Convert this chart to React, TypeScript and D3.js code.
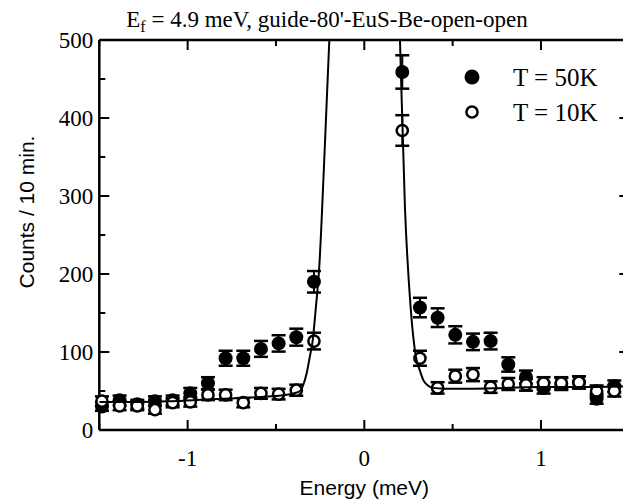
import React from "react";
import * as d3 from "d3";

const energies = [
  -1.485, -1.385, -1.285, -1.185, -1.085, -0.985, -0.885, -0.785, -0.685, -0.585, -0.485, -0.385, -0.285,
  0.215, 0.315, 0.415, 0.515, 0.615, 0.715, 0.815, 0.915, 1.015, 1.115, 1.215, 1.315, 1.415,
];
const counts50K = [
  30, 38, 33, 37, 38, 47, 60, 92, 92, 104, 111, 119, 190,
  459, 157, 144, 122, 113, 114, 84, 68, 54, 59, 61, 40, 56,
];
const errors50K = [
  5.5, 6.2, 5.7, 6.1, 6.2, 6.9, 7.7, 9.6, 9.6, 10.2, 10.5, 10.9, 13.8,
  21.4, 12.5, 12.0, 11.0, 10.6, 10.7, 9.2, 8.2, 7.3, 7.7, 7.8, 6.3, 7.5,
];
const counts10K = [
  37, 31, 31, 26, 35, 36, 45, 45, 35, 47, 46, 51, 114,
  384, 92, 54, 69, 71, 55, 59, 58, 60, 60, 61, 50, 50,
];
const errors10K = [
  6.1, 5.6, 5.6, 5.1, 5.9, 6.0, 6.7, 6.7, 5.9, 6.9, 6.8, 7.1, 10.7,
  19.6, 9.6, 7.3, 8.3, 8.4, 7.4, 7.7, 7.6, 7.7, 7.7, 7.8, 7.1, 7.1,
];

// fitted curve (two branches of the elastic peak)
const fitLeftE = [-1.5, -1.3, -1.1, -0.9, -0.7, -0.55, -0.45, -0.4, -0.364, -0.345, -0.326, -0.31, -0.292, -0.275, -0.255, -0.226, -0.198, -0.18];
const fitLeftC = [36, 36, 37, 39, 41, 43, 45, 47, 50, 58, 73, 92, 115, 155, 209, 350, 500, 600];
const fitRightE = [0.19, 0.202, 0.23, 0.262, 0.292, 0.315, 0.334, 0.36, 0.39, 0.45, 0.6, 0.8, 1.0, 1.2, 1.5];
const fitRightC = [600, 500, 286, 158, 94, 76, 64, 57, 54, 53, 53, 54, 55, 55, 56];

const xMajor = [-1, 0, 1];
const xMinor = [-1.5, -0.5, 0.5, 1.5];
const yMajor = [0, 100, 200, 300, 400, 500];
const yMinor = [50, 150, 250, 350, 450];

const W = 623;
const H = 504;
const left = 99.3;
const right = 629.3;
const top = 40;
const bottom = 430;

const SERIF = "'Liberation Serif', 'Times New Roman', serif";
const SANS = "'Liberation Sans', Arial, Helvetica, sans-serif";

export default function App() {
  const x = d3.scaleLinear().domain([-1.5, 1.5]).range([left, right]);
  const y = d3.scaleLinear().domain([0, 500]).range([bottom, top]);

  const line = d3
    .line<[number, number]>()
    .x((d) => x(d[0]))
    .y((d) => y(d[1]))
    .curve(d3.curveMonotoneX);

  const leftPts: [number, number][] = fitLeftE.map((e, i) => [e, fitLeftC[i]]);
  const rightPts: [number, number][] = fitRightE.map((e, i) => [e, fitRightC[i]]);

  const majorLen = 10;
  const minorLen = 6;
  const axisStroke = 2.5;
  const cap = 7;

  const errBar = (cx: number, c: number, e: number, key: string) => (
    <g key={key} stroke="#000" fill="none">
      <line x1={cx} x2={cx} y1={y(c - e)} y2={y(c + e)} strokeWidth={2} />
      <line x1={cx - cap} x2={cx + cap} y1={y(c - e)} y2={y(c - e)} strokeWidth={2.5} />
      <line x1={cx - cap} x2={cx + cap} y1={y(c + e)} y2={y(c + e)} strokeWidth={2.5} />
    </g>
  );

  return (
    <svg
      width={W}
      height={H}
      style={{ position: "absolute", left: 0, top: 0, background: "#fff" }}
      xmlns="http://www.w3.org/2000/svg"
    >
      <defs>
        <clipPath id="plotClip">
          <rect x={left} y={top} width={right - left} height={bottom - top} />
        </clipPath>
      </defs>
      <rect x={0} y={0} width={W} height={H} fill="#fff" />

      {/* title */}
      <text x={327} y={27} textAnchor="middle" fontFamily={SERIF} fontSize={23} fill="#000">
        <tspan>E</tspan>
        <tspan fontSize={16} dy={5}>f</tspan>
        <tspan dy={-5}> = 4.9 meV, guide-80'-EuS-Be-open-open</tspan>
      </text>

      {/* frame */}
      <g stroke="#000" strokeWidth={axisStroke} fill="none">
        <line x1={left} x2={right} y1={bottom} y2={bottom} />
        <line x1={left} x2={right} y1={top} y2={top} />
        <line x1={left} x2={left} y1={top} y2={bottom} />
        <line x1={right} x2={right} y1={top} y2={bottom} />
      </g>

      {/* x ticks */}
      <g stroke="#000" strokeWidth={2}>
        {xMajor.map((v) => (
          <g key={"xm" + v}>
            <line x1={x(v)} x2={x(v)} y1={bottom} y2={bottom - majorLen} />
            <line x1={x(v)} x2={x(v)} y1={top} y2={top + majorLen} />
          </g>
        ))}
        {xMinor.map((v) => (
          <g key={"xn" + v}>
            <line x1={x(v)} x2={x(v)} y1={bottom} y2={bottom - minorLen} />
            <line x1={x(v)} x2={x(v)} y1={top} y2={top + minorLen} />
          </g>
        ))}
        {yMajor.map((v) => (
          <g key={"ym" + v}>
            <line x1={left} x2={left + majorLen} y1={y(v)} y2={y(v)} />
            <line x1={right} x2={right - majorLen} y1={y(v)} y2={y(v)} />
          </g>
        ))}
        {yMinor.map((v) => (
          <g key={"yn" + v}>
            <line x1={left} x2={left + minorLen} y1={y(v)} y2={y(v)} />
            <line x1={right} x2={right - minorLen} y1={y(v)} y2={y(v)} />
          </g>
        ))}
      </g>

      {/* tick labels */}
      <g fontFamily={SERIF} fontSize={23} fill="#000">
        {xMajor.map((v) => (
          <text key={"xl" + v} x={x(v)} y={466} textAnchor="middle">
            {v === 0 ? "0" : v < 0 ? "-" + Math.abs(v) : String(v)}
          </text>
        ))}
        {yMajor.map((v) => (
          <text key={"yl" + v} x={left - 6} y={y(v) + 8} textAnchor="end">
            {v}
          </text>
        ))}
      </g>

      {/* axis titles */}
      <text x={x(0)} y={495} textAnchor="middle" fontFamily={SANS} fontSize={21} fill="#000">
        Energy (meV)
      </text>
      <text
        transform="translate(34,212) rotate(-90)"
        textAnchor="middle"
        fontFamily={SANS}
        fontSize={21}
        fill="#000"
      >
        Counts / 10 min.
      </text>

      {/* 50K: filled */}
      <g>
        {energies.map((e, i) => errBar(x(e), counts50K[i], errors50K[i], "e50" + i))}
        {energies.map((e, i) => (
          <circle key={"p50" + i} cx={x(e)} cy={y(counts50K[i])} r={7} fill="#000" />
        ))}
      </g>

      {/* 10K: open */}
      <g>
        {energies.map((e, i) => errBar(x(e), counts10K[i], errors10K[i], "e10" + i))}
        {energies.map((e, i) => (
          <circle
            key={"p10" + i}
            cx={x(e)}
            cy={y(counts10K[i])}
            r={5.6}
            fill="#fff"
            stroke="#000"
            strokeWidth={2.5}
          />
        ))}
      </g>

      {/* fit */}
      <g clipPath="url(#plotClip)" fill="none" stroke="#000" strokeWidth={2}>
        <path d={line(leftPts) || ""} />
        <path d={line(rightPts) || ""} />
      </g>

      {/* legend */}
      <g>
        <circle cx={472} cy={77} r={7.5} fill="#000" />
        <circle cx={472} cy={112} r={5.6} fill="#fff" stroke="#000" strokeWidth={2.5} />
        <text x={513} y={86} fontFamily={SERIF} fontSize={25} fill="#000">
          T = 50K
        </text>
        <text x={513} y={121} fontFamily={SERIF} fontSize={25} fill="#000">
          T = 10K
        </text>
      </g>
    </svg>
  );
}
